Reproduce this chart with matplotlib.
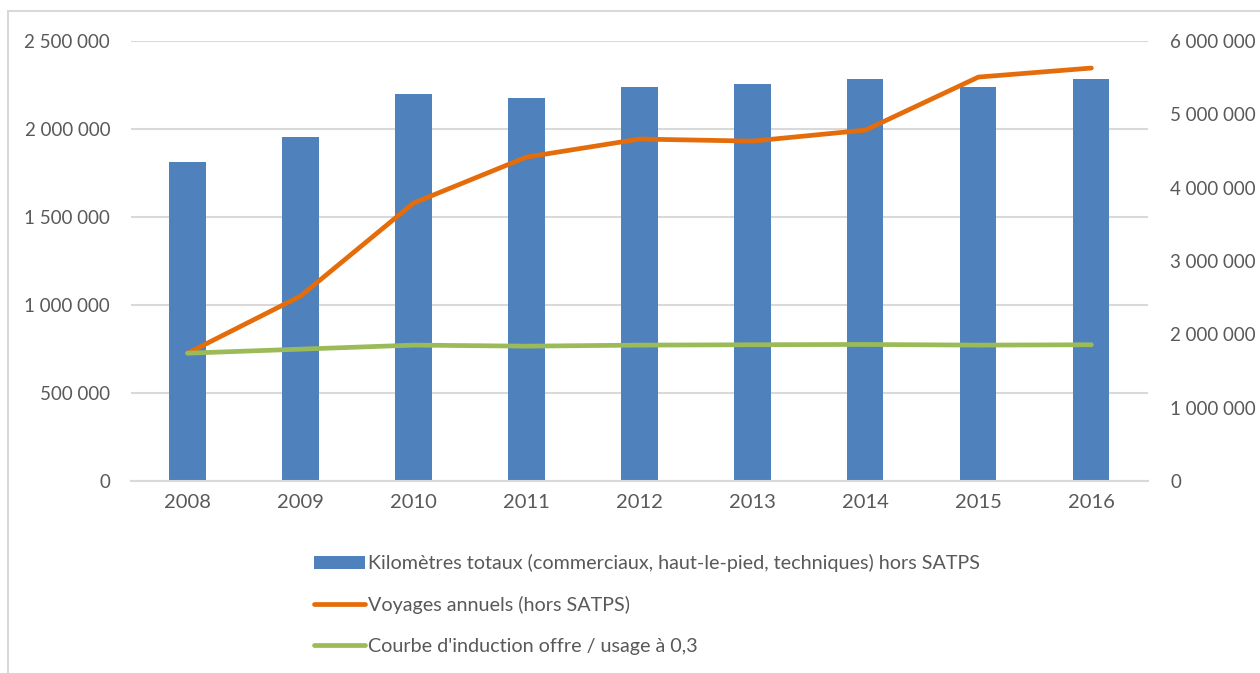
import matplotlib.pyplot as plt
import numpy as np
from matplotlib.ticker import FuncFormatter, FixedLocator

years = ["2008", "2009", "2010", "2011", "2012", "2013", "2014", "2015", "2016"]
km_totaux = [1812000, 1955000, 2199000, 2177000, 2239000, 2256000, 2284000, 2239000, 2284000]
voyages = [1745000, 2523000, 3791000, 4418000, 4664000, 4636000, 4786000, 5509000, 5632000]
induction = [1745000, 1800000, 1855000, 1841000, 1855000, 1860000, 1864000, 1855000, 1860000]

left_ticks = [0, 500000, 1000000, 1500000, 2000000, 2500000]
right_ticks = [0, 1000000, 2000000, 3000000, 4000000, 5000000, 6000000]

BLUE = "#4F81BD"
ORANGE = "#E46C0A"
GREEN = "#9BBB59"
TEXT = "#595959"
GRID = "#D9D9D9"

plt.rcParams['font.family'] = ['Lato', 'DejaVu Sans']


def fmt(v, pos=None):
    return "{:,}".format(int(v)).replace(",", " ")


fig = plt.figure(figsize=(12.6, 6.73), dpi=100)
ax = fig.add_axes([0.104, 0.285, 0.807, 0.654])
ax2 = ax.twinx()

x = np.arange(len(years))
bars = ax.bar(x, km_totaux, width=0.32, color=BLUE, zorder=2,
              label="Kilomètres totaux (commerciaux, haut-le-pied, techniques) hors SATPS")
l1, = ax2.plot(x, voyages, color=ORANGE, lw=3.4, solid_capstyle="round",
               label="Voyages annuels (hors SATPS)")
l2, = ax2.plot(x, induction, color=GREEN, lw=3.4, solid_capstyle="round",
               label="Courbe d'induction offre / usage à 0,3")

ax.set_xlim(-0.5, len(years) - 0.5)
ax.set_ylim(0, 2500000)
ax2.set_ylim(0, 6000000)
ax.yaxis.set_major_locator(FixedLocator(left_ticks))
ax2.yaxis.set_major_locator(FixedLocator(right_ticks))
ax.yaxis.set_major_formatter(FuncFormatter(fmt))
ax2.yaxis.set_major_formatter(FuncFormatter(fmt))
ax.set_xticks(x)
ax.set_xticklabels(years)

ax.grid(axis="y", color=GRID, lw=1.5, zorder=0)
ax.set_axisbelow(True)
for a in (ax, ax2):
    for s in a.spines.values():
        s.set_visible(False)
    a.tick_params(length=0, labelsize=13.5, colors=TEXT)
ax.spines["bottom"].set_visible(True)
ax.spines["bottom"].set_color(GRID)
ax.spines["bottom"].set_linewidth(1.5)
ax.tick_params(axis="y", pad=15)
ax.tick_params(axis="x", pad=9, labelsize=14.5)
ax2.tick_params(axis="y", pad=16)

fig.legend(handles=[bars, l1, l2], loc="upper left", bbox_to_anchor=(0.243, 0.188),
           frameon=False, fontsize=14.2, labelcolor=TEXT, handlelength=2.6,
           handletextpad=0.15, labelspacing=1.2, borderaxespad=0)

fig.patches.append(plt.Rectangle((0.0065, -0.01), 1.0, 0.993, transform=fig.transFigure,
                                 fill=False, edgecolor=GRID, lw=1.5))

plt.savefig("out.png", dpi=100)
